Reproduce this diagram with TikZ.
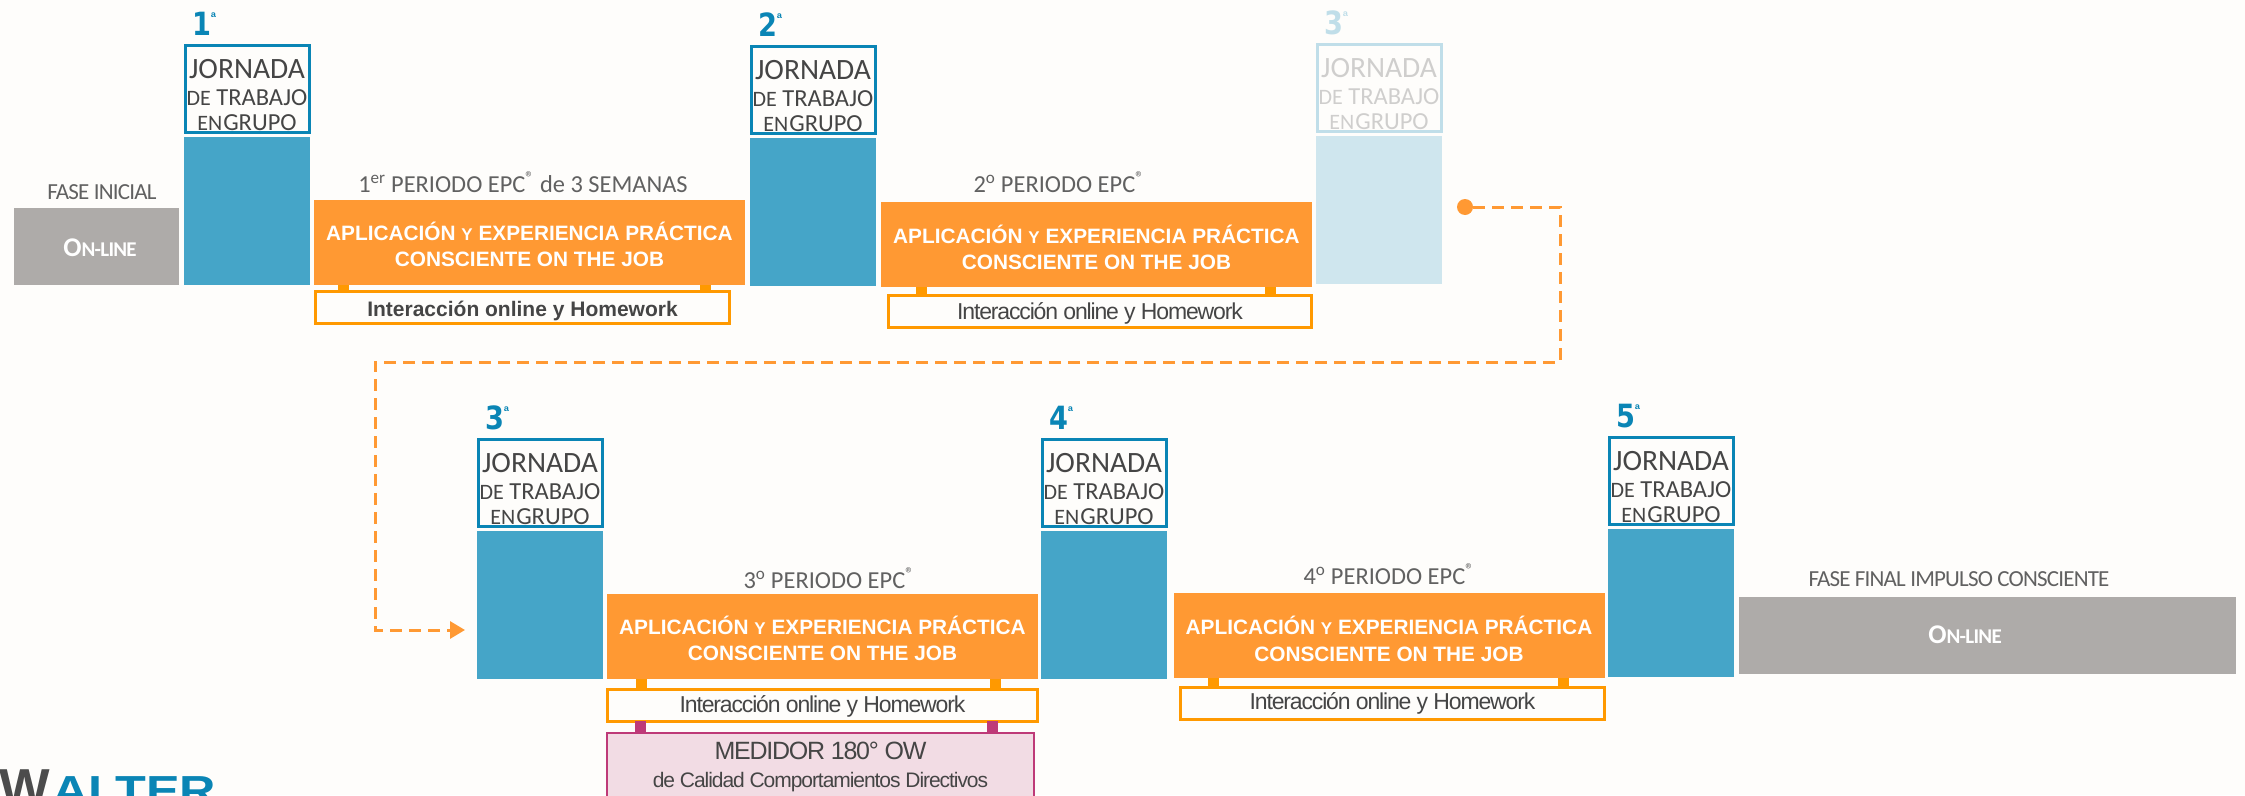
\documentclass[tikz,border=0pt]{standalone}
\usepackage{fontspec}
\setmainfont{Carlito}
\newfontfamily\arialfont{Liberation Sans}
\newfontfamily\heavyfont{DejaVu Sans}
\newfontfamily\tightfont[LetterSpace=-5]{Liberation Sans}
\newfontfamily\capfont[LetterSpace=-3.5]{Carlito}
\usetikzlibrary{arrows.meta}

\definecolor{paper}{HTML}{FEFDFB}
\definecolor{barblue}{HTML}{45A5C8}
\definecolor{lineblue}{HTML}{0A85B5}
\definecolor{epcorange}{HTML}{FF9933}
\definecolor{taborange}{HTML}{FF9900}
\definecolor{phasegray}{HTML}{AEABA9}
\definecolor{textgray}{HTML}{454545}
\definecolor{owpink}{HTML}{BE3A78}
\definecolor{owfill}{HTML}{F2DCE4}

\newcommand{\fsize}[1]{\fontsize{#1}{#1}\selectfont}
\newcommand{\onlinetext}{\capfont\bfseries\fsize{27}O\fsize{21}N-LINE}

\begin{document}
\begin{tikzpicture}[x=1pt, y=-1pt]
    \tikzstyle{every node} = [inner sep=0, outer sep=0, text=textgray]
    \tikzstyle{bar} = [fill=barblue, minimum width=126, minimum height=148]
    \tikzstyle{jornadabox} = [draw=lineblue, line width=3, fill=paper, minimum width=124, minimum height=87, align=center, font=\fsize{24.5}]
    \tikzstyle{daynum} = [anchor=base west, text=lineblue, font=\heavyfont\bfseries\fsize{32}]
    \tikzstyle{periodo} = [fill=epcorange, minimum width=431, minimum height=85, align=center, text=white, font=\arialfont\bfseries\fsize{20.8}]
    \tikzstyle{online} = [draw=taborange, fill=paper, line width=3, minimum height=32]
    \tikzstyle{phase} = [fill=phasegray]
    \tikzstyle{phasetext} = [text=white]
    \tikzstyle{caption} = [font=\fsize{24.4}, text=textgray!85]
    \tikzstyle{tab} = [line width=11, taborange]
    \tikzstyle{flow} = [line width=3, epcorange, dash pattern=on 12pt off 7pt]

    \clip (0, 0) rectangle (2245, 795);
    \fill [paper] (0, 0) rectangle (2245, 795);

    \foreach \n/\d/\x/\y/\o in {1/1/247/211/1, 2/2/813/212/1, 3/3/1379/210/.25, 4/3/540/605/1, 5/4/1104/605/1, 6/5/1671/603/1} {
      \node [bar, opacity=\o] (bar\n) at (\x, \y) {};
      \node [jornadabox, opacity=\o] (jornada\n) at (\x, \y - 122) {%
        \rule{0pt}{31pt}{\fsize{29.5}JORNADA}\\[2.5pt]%
        {\fsize{22}DE} TRABAJO\\%
        {\fsize{22}EN\kern-2pt\ \kern-2pt}GRUPO};
      \node [daynum, opacity=\o] (day\n) at (\x - 55, \y - 176) {\scalebox{.85}[1]{\d}\raisebox{13pt}{\arialfont\fsize{14}ª}};
    }

    \foreach \n/\x/\y/\s in {1/529.5/242.5/22, 2/1096.5/244.5/24, 3/822.5/636.5/22, 4/1389/635/26}
      \node [periodo] (periodo\n) at (\x, \y) {\rule{0pt}{\s pt}APLICACIÓN {\fsize{17}Y} EXPERIENCIA PRÁCTICA\\[6pt]CONSCIENTE ON THE JOB};

    \node [online, minimum width=414] (online1) at (522.5, 307.5) {\rule{0pt}{22pt}\arialfont\bfseries\fsize{21}Interacción online y Homework};
    \foreach \n/\x/\y/\w/\s in {2/1100/311.5/423/21, 3/822.5/705/430/20, 4/1392.5/703/424/17}
      \node [online, minimum width=\w] (online\n) at (\x, \y) {\rule{0pt}{\s pt}\tightfont\fsize{23}Interacción online y Homework};

    \foreach \n/\a/\b in {1/343/705, 2/921/1270, 3/641/995, 4/1213/1563} {
      \draw [tab] (\a, 0 |- periodo\n.south) -- (\a, 0 |- online\n.north);
      \draw [tab] (\b, 0 |- periodo\n.south) -- (\b, 0 |- online\n.north);
    }

    \node [draw=owpink, fill=owfill, line width=2.5, minimum width=427, minimum height=68, align=center, font=\fsize{26}] (medidor) at (820.5, 767) {%
      {\tightfont\fsize{25}MEDIDOR 180° OW}\\[2pt]{\tightfont\fsize{21}de Calidad Comportamientos Directivos}};
    \draw [tab, owpink] (640, 0 |- online3.south) -- (640, 0 |- medidor.north);
    \draw [tab, owpink] (992, 0 |- online3.south) -- (992, 0 |- medidor.north);

    \node [phase, minimum width=165, minimum height=77] (inicial) at (96.5, 246.5) {};
    \node [phase, minimum width=497, minimum height=77] (final) at (1987.5, 635.5) {};
    \node [phasetext] (online5) at (100, 248) {\onlinetext};
    \node [phasetext] (online6) at (1965, 635) {\onlinetext};

    \node [caption] (capinicial) at (102, 192) {\capfont\fsize{23}FASE INICIAL};
    \node [caption] (capfinal) at (1959, 579) {\capfont\fsize{23}FASE FINAL IMPULSO CONSCIENTE};
    \node [caption] (cap1) at (523, 182) {1\textsuperscript{er} PERIODO EPC\textsuperscript{®} de 3 SEMANAS};
    \node [caption] (cap2) at (1059, 182) {2\textsuperscript{o} PERIODO EPC\textsuperscript{®}};
    \node [caption] (cap3) at (829, 578) {3\textsuperscript{o} PERIODO EPC\textsuperscript{®}};
    \node [caption] (cap4) at (1389, 574) {4\textsuperscript{o} PERIODO EPC\textsuperscript{®}};

    \node [circle, fill=epcorange, minimum size=16] (flowstart) at (1465, 207) {};
    \coordinate (flowend) at (465, 630);
    \draw [flow, -{Triangle[length=15pt, width=17pt]}] (flowstart) -- (1560, 207) -- (1560, 362) -- (375, 362) -- (375, 630) -- (flowend);

    \node [anchor=base west, text=black!70] (logow) at (0, 805) {\arialfont\bfseries\scalebox{1.03}[1]{\fsize{52}W}};
    \node [anchor=base west, text=lineblue] (logoalter) at (52, 805) {\arialfont\bfseries\scalebox{1.2}[1]{\fsize{42}ALTER}};
  \end{tikzpicture}
\end{document}
